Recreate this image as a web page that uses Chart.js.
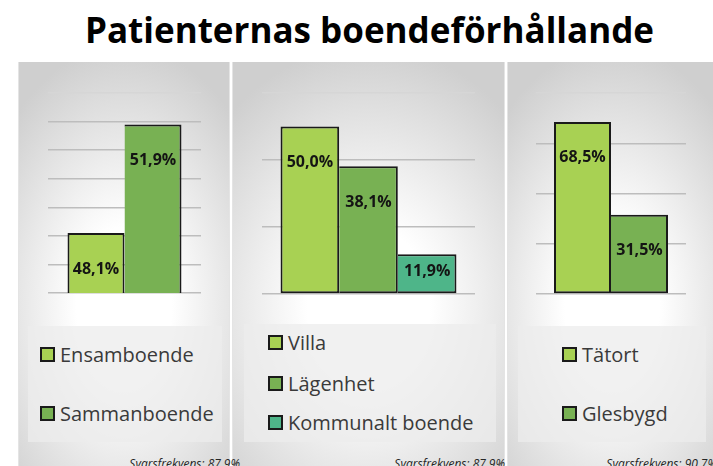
<!DOCTYPE html>
<html>
<head>
<meta charset="utf-8">
<script src="https://cdn.jsdelivr.net/npm/chart.js@4.4.1/dist/chart.umd.min.js"></script>
<style>
  body { margin: 0; width: 713px; height: 466px; overflow: hidden; background: #fff; position: relative; font-family: "Open Sans", sans-serif; }
  #title { position: absolute; left: 13px; width: 713px; top: 6px; text-align: center; font-weight: bold; font-size: 35px; color: #000; }
  .panel { position: absolute; top: 62px; height: 420px;
    background: radial-gradient(ellipse 75% 62% at 50% 58%, #ffffff 0%, #ffffff 30%, #cfcfcf 100%);
    box-shadow: inset 1px 0 0 #e4e4e4, inset -1px 0 0 #e4e4e4; }
  .legend { position: absolute; background: rgba(236,236,236,0.75); }
  .item { position: absolute; display: flex; align-items: center; font-size: 20px; color: #3a3a3a; white-space: nowrap; }
  .box { width: 11px; height: 11px; border: 2px solid #1a1a1a; margin-right: 5px; }
  .foot { position: absolute; top: 455px; font-style: italic; font-size: 12px; color: #262626; white-space: nowrap; }
  canvas { position: absolute; }
</style>
</head>
<body>
<div id="title">Patienternas boendeförhållande</div>

<div class="panel" style="left:18px;width:212px"></div>
<div class="panel" style="left:232px;width:273px"></div>
<div class="panel" style="left:507px;width:210px"></div>

<div class="legend" style="left:28px;top:326px;width:194px;height:116px"></div>
<div class="legend" style="left:244px;top:324px;width:252px;height:118px"></div>
<div class="legend" style="left:518px;top:326px;width:188px;height:116px"></div>

<canvas id="c1" style="left:42px;top:87px" width="165" height="212"></canvas>
<canvas id="c2" style="left:256px;top:87px" width="225" height="213"></canvas>
<canvas id="c3" style="left:530px;top:87px" width="162" height="213"></canvas>

<div id="legends"></div>

<script>
// values
var cats1 = ['Ensamboende', 'Sammanboende'];
var vals1 = [48.1, 51.9];
var cats2 = ['Villa', 'Lägenhet', 'Kommunalt boende'];
var vals2 = [50.0, 38.1, 11.9];
var cats3 = ['Tätort', 'Glesbygd'];
var vals3 = [68.5, 31.5];
var svar = ['87,9%', '87,9%', '90,7%'];

// y axis: min, max, step
var axis1 = [46, 53, 1];
var axis2 = [0, 60, 20];
var axis3 = [0, 80, 20];

var colors = ['#a8d153', '#78b153', '#4eb589'];

var labelPlugin = {
  id: 'barLabels',
  afterDatasetsDraw: function(chart) {
    var ctx = chart.ctx;
    ctx.save();
    ctx.font = 'bold 16px "Open Sans", sans-serif';
    ctx.fillStyle = '#141414';
    ctx.textAlign = 'center';
    ctx.textBaseline = 'middle';
    chart.data.datasets.forEach(function(ds, i) {
      var bar = chart.getDatasetMeta(i).data[0];
      var y = Math.min(bar.y + 36, (bar.y + bar.base) / 2 - 2);
      ctx.fillText(ds.data[0].toFixed(1).replace('.', ',') + '%', bar.x, y);
    });
    ctx.restore();
  }
};

function makeChart(id, cats, vals, axis, catPct) {
  var datasets = cats.map(function(c, i) {
    return {
      label: c,
      data: [vals[i]],
      backgroundColor: colors[i],
      borderColor: '#1a1a1a',
      // neighbouring bars share one border line
      borderWidth: i === 0 ? 2 : { top: 2, right: 2, bottom: 2, left: 0 },
      borderSkipped: false,
      barPercentage: 1,
      categoryPercentage: catPct
    };
  });
  new Chart(document.getElementById(id), {
    type: 'bar',
    data: { labels: [''], datasets: datasets },
    options: {
      responsive: false,
      animation: false,
      layout: { padding: 6 },
      plugins: { legend: { display: false }, tooltip: { enabled: false } },
      scales: {
        x: { display: false },
        y: {
          min: axis[0], max: axis[1],
          ticks: { display: false, stepSize: axis[2] },
          border: { display: false },
          grid: {
            drawTicks: false,
            lineWidth: 1.5,
            color: function(c) { return c.index === c.scale.ticks.length - 1 ? '#d6d6d6' : '#bdbdbd'; }
          }
        }
      }
    },
    plugins: [labelPlugin]
  });
}

makeChart('c1', cats1, vals1, axis1, 0.745);
makeChart('c2', cats2, vals2, axis2, 0.826);
makeChart('c3', cats3, vals3, axis3, 0.76);

// legends and footers
var legendPos = [
  { x: 40, ys: [354, 413] },
  { x: 268, ys: [342, 383, 422] },
  { x: 562, ys: [354, 413] }
];
var footRight = [240, 505, 717];
var holder = document.getElementById('legends');
[cats1, cats2, cats3].forEach(function(cats, p) {
  cats.forEach(function(c, i) {
    var d = document.createElement('div');
    d.className = 'item';
    d.style.left = legendPos[p].x + 'px';
    d.style.top = (legendPos[p].ys[i] - 14) + 'px';
    d.style.height = '28px';
    d.innerHTML = '<span class="box" style="background:' + colors[i] + '"></span>' + c;
    holder.appendChild(d);
  });
  var f = document.createElement('div');
  f.className = 'foot';
  f.textContent = 'Svarsfrekvens: ' + svar[p];
  f.style.right = (713 - footRight[p]) + 'px';
  holder.appendChild(f);
});
</script>
</body>
</html>
